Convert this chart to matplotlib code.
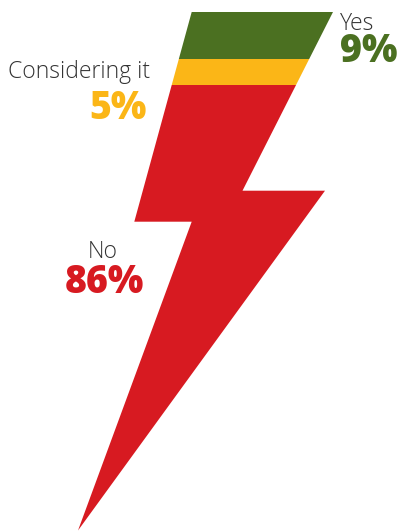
import matplotlib
matplotlib.use("Agg")
import matplotlib.pyplot as plt
from matplotlib.patches import Polygon

categories = ["Yes", "Considering it", "No"]
values = [9, 5, 86]
pct_labels = ["9%", "5%", "86%"]
colors = ["#4b7021", "#fbb617", "#d71a21"]

W, H = 402, 531
fig = plt.figure(figsize=(W / 100, H / 100), dpi=100)
ax = fig.add_axes([0, 0, 1, 1])
ax.set_xlim(0, W)
ax.set_ylim(H, 0)
ax.axis("off")

# lightning bolt outline (pixel space)
bolt = [(191.7, 12), (333, 12), (242.5, 190.7), (325, 190.7),
        (78, 530.5), (191.7, 221.7), (134.3, 221.7)]
top, bottom = 12, 530.5
scale = (bottom - top) / sum(values)

clip = Polygon(bolt, closed=True, transform=ax.transData, facecolor="none", edgecolor="none")
ax.add_patch(clip)

cum = top
for v, c in zip(values, colors):
    bars = ax.bar(W / 2, v * scale, width=W, bottom=cum, color=c, linewidth=0, align="center")
    for b in bars:
        b.set_clip_path(clip)
    cum += v * scale

fam = ["Open Sans", "DejaVu Sans"]
grey = "#333333"
lab_fs = 16.5
pct_fs = 27

# Yes
ax.text(340, 30, categories[0], ha="left", va="baseline", fontsize=lab_fs,
        color=grey, family=fam, fontweight="light")
ax.text(340, 62, pct_labels[0], ha="left", va="baseline", fontsize=pct_fs,
        color=colors[0], family=fam, fontweight="heavy")
# Considering it
ax.text(150, 78.5, categories[1], ha="right", va="baseline", fontsize=lab_fs,
        color=grey, family=fam, fontweight="light")
ax.text(147, 119, pct_labels[1], ha="right", va="baseline", fontsize=pct_fs,
        color=colors[1], family=fam, fontweight="heavy")
# No
ax.text(102.5, 258, categories[2], ha="center", va="baseline", fontsize=lab_fs,
        color=grey, family=fam, fontweight="light")
ax.text(104, 293, pct_labels[2], ha="center", va="baseline", fontsize=pct_fs,
        color=colors[2], family=fam, fontweight="heavy")

fig.savefig("out.png", dpi=100, facecolor="white")
